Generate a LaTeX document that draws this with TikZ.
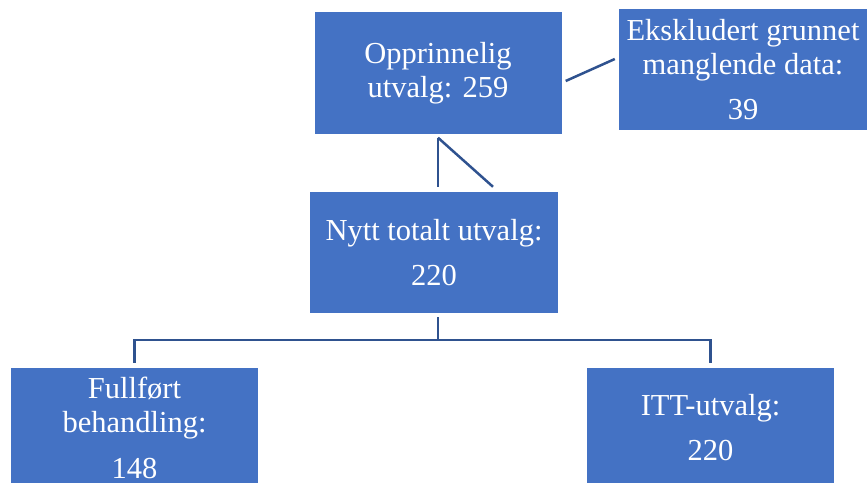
\documentclass[tikz,border=0pt]{standalone}
\usepackage{fontspec}
\setmainfont{Liberation Serif}
\definecolor{boxblue}{HTML}{4472C4}
\definecolor{linkblue}{HTML}{2F528F}
\begin{document}
\begin{tikzpicture}[x=1bp, y=-1bp,
  box/.style={fill=boxblue, draw=none, text=white, align=center,
    minimum width=247bp, minimum height=121bp, inner sep=0pt,
    font=\fontsize{30.5bp}{34bp}\selectfont},
  link/.style={draw=linkblue, line width=2.5bp}]
  \useasboundingbox (0,0) rectangle (867,483);
  \begin{scope}
    \clip (0,0) rectangle (867,483);
    \node[box, minimum height=122bp] (top) at (438,73) {Opprinnelig\\utvalg: 259};
    \node[box, minimum width=248bp] (excl) at (743,69.5) {Ekskludert grunnet\\manglende data:\\[11bp]39};
    \node[box, minimum width=248bp] (mid) at (434,252.5) {Nytt totalt utvalg:\\[11bp]220};
    \node[box, minimum height=120bp] (left) at (134.5,428) {Fullført\\behandling:\\[12bp]148};
    \node[box, minimum height=120bp] (itt) at (710.5,428) {ITT-utvalg:\\[11bp]220};
  \end{scope}
  % connector to the excluded box (offsets in picture units, y grows downward)
  \draw[link] ([shift={(4,8)}]top.east) -- ([shift={(-4,-10.5)}]excl.west);
  % two strokes between the upper boxes
  \coordinate (t0) at ([shift={(0,3.5)}]top.south);
  \coordinate (mn) at ([shift={(0,-5)}]mid.north);
  \coordinate (t1) at (t0 |- mn);
  \coordinate (t2) at ([shift={(55,0)}]t1);
  \draw[link] (t0) -- (t1);
  \draw[link] (t0) -- (t2);
  % branching tree to the lower boxes
  \coordinate (ms) at ([shift={(0,4)}]mid.south);
  \coordinate (m0) at (t0 |- ms);
  \coordinate (hub) at ([shift={(0,23)}]m0);
  \coordinate (lh) at (left.north |- hub);
  \coordinate (rh) at (itt.north |- hub);
  \draw[link] (m0) -- (hub);
  \draw[link] ([shift={(0,-5)}]left.north) -- (lh) -- (rh) -- ([shift={(0,-5)}]itt.north);
\end{tikzpicture}
\end{document}
